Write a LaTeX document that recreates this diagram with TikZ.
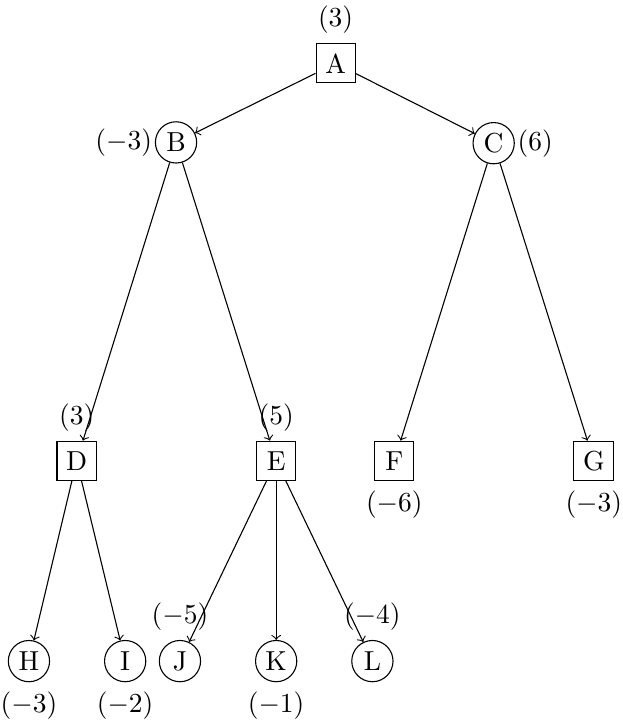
\documentclass[tikz,border=0pt]{standalone}
\begin{document}
\begin{tikzpicture}[
  maxnode/.style={rectangle, draw, minimum size=5mm},
  minnode/.style={circle, draw, inner sep=1pt, minimum size=15pt},
  label distance=0pt
]
\useasboundingbox (0,0) rectangle (7.963,-9.254);
\node[maxnode, label=above:$(3)$] (A) at (4.29,-0.81) {A};
\node[minnode, label={[label distance=-2.5pt]left:$(-3)$}] (B) at (2.25,-1.82) {B};
\node[minnode, label={[label distance=-2.5pt]right:$(6)$}] (C) at (6.31,-1.83) {C};
\node[maxnode, label=above:$(3)$] (D) at (0.98,-5.89) {D};
\node[maxnode, label=above:$(5)$] (E) at (3.53,-5.89) {E};
\node[maxnode, label=below:$(-6)$] (F) at (5.04,-5.89) {F};
\node[maxnode, label=below:$(-3)$] (G) at (7.59,-5.89) {G};
\node[minnode, label=below:$(-3)$] (H) at (0.37,-8.45) {H};
\node[minnode, label=below:$(-2)$] (I) at (1.60,-8.45) {I};
\node[minnode, label=above:$(-5)$] (J) at (2.30,-8.45) {J};
\node[minnode, label=below:$(-1)$] (K) at (3.53,-8.45) {K};
\node[minnode, label=above:$(-4)$] (L) at (4.76,-8.45) {L};

% Edges
\draw[->] (A) -- (B);
\draw[->] (A) -- (C);
\draw[->] (B) -- (D);
\draw[->] (B) -- (E);
\draw[->] (C) -- (F);
\draw[->] (C) -- (G);
\draw[->] (D) -- (H);
\draw[->] (D) -- (I);
\draw[->] (E) -- (J);
\draw[->] (E) -- (K);
\draw[->] (E) -- (L);
\end{tikzpicture}
\end{document}
